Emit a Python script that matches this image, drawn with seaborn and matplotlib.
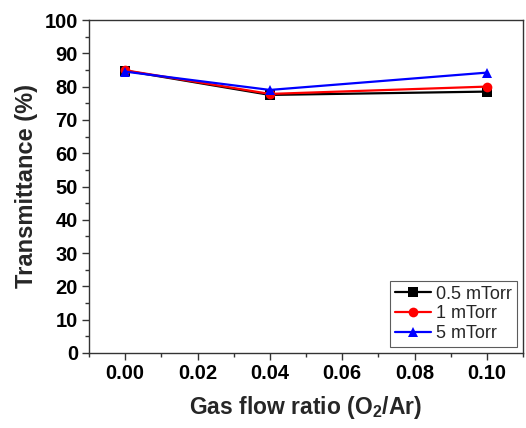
import matplotlib
matplotlib.use("Agg")
import matplotlib.pyplot as plt
import seaborn as sns
import pandas as pd
from matplotlib.ticker import MultipleLocator

ratio = [0.00, 0.04, 0.10]
t_05 = [84.8, 77.5, 78.5]
t_1 = [84.9, 77.8, 80.0]
t_5 = [84.5, 79.0, 84.2]
series = ["0.5 mTorr", "1 mTorr", "5 mTorr"]

rows = []
for name, vals in zip(series, [t_05, t_1, t_5]):
    for x, y in zip(ratio, vals):
        rows.append({"ratio": x, "T": y, "series": name})
df = pd.DataFrame(rows)

sns.set_style("ticks")
plt.rcParams['font.family'] = ['Liberation Sans', 'DejaVu Sans']
plt.rcParams['mathtext.fontset'] = 'custom'
plt.rcParams['mathtext.rm'] = 'Liberation Sans:bold'
plt.rcParams['mathtext.bf'] = 'Liberation Sans:bold'

fig = plt.figure(figsize=(5.26, 4.28), dpi=100)
ax = fig.add_axes([89/526, 1-353/428, (523-89)/526, (353-20)/428])

palette = {"0.5 mTorr": "black", "1 mTorr": "red", "5 mTorr": "blue"}
markers = {"0.5 mTorr": "s", "1 mTorr": "o", "5 mTorr": "^"}
sns.lineplot(data=df, x="ratio", y="T", hue="series", style="series",
             palette=palette, markers=markers, dashes=False,
             markersize=7, linewidth=1.6, markeredgewidth=0, ax=ax)

ax.set_xlim(-0.01, 0.11)
ax.set_ylim(0, 100)
ax.xaxis.set_major_locator(MultipleLocator(0.02))
ax.xaxis.set_minor_locator(MultipleLocator(0.01))
ax.yaxis.set_major_locator(MultipleLocator(10))
ax.yaxis.set_minor_locator(MultipleLocator(5))
ax.set_xticklabels([f"{v:.2f}" for v in ax.get_xticks()])
for s in ax.spines.values():
    s.set_visible(True)
    s.set_color("#333333")
    s.set_linewidth(1.0)
ax.tick_params(which="major", direction="out", length=5, width=1, colors="#333333",
               labelsize=14.5, labelcolor="black", right=False, top=False, pad=3)
ax.tick_params(which="minor", direction="out", length=3, width=1, colors="#333333",
               right=False, top=False)
for lab in ax.get_xticklabels() + ax.get_yticklabels():
    lab.set_fontweight("bold")

ax.set_xlabel(r"Gas flow ratio (O$_{\mathbf{2}}$/Ar)", fontsize=16.5, fontweight="bold", labelpad=8)
ax.set_ylabel("Transmittance (%)", fontsize=17, fontweight="bold", labelpad=5)

leg = ax.legend(loc="lower right", fontsize=13, frameon=True, fancybox=False,
                edgecolor="#333333", handlelength=2.0, handletextpad=0.3,
                borderpad=0.25, labelspacing=0.15, borderaxespad=0.35)
leg.get_frame().set_linewidth(0.8)

fig.savefig("out.png", dpi=100)
